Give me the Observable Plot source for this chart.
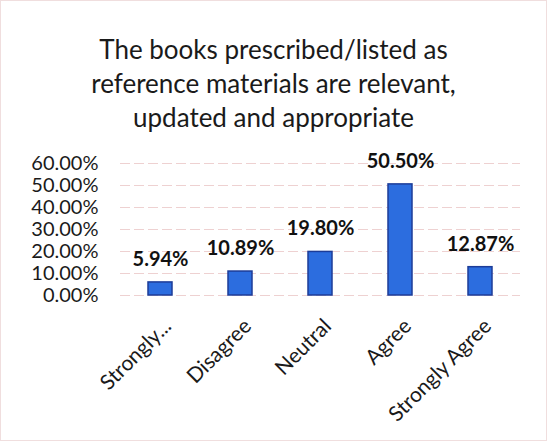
<!DOCTYPE html>
<html><head><meta charset="utf-8">
<script src="https://cdn.jsdelivr.net/npm/d3@7"></script>
<script src="https://cdn.jsdelivr.net/npm/@observablehq/plot@0.6"></script>
<style>
body{margin:0;background:#fff;width:547px;height:441px;overflow:hidden;font-family:Lato,"Open Sans",sans-serif;}
#wrap{position:relative;width:545px;height:439px;border:1px solid #f0dede;}
#title{height:139px;box-sizing:border-box;padding-top:31px;text-align:center;font-size:26px;line-height:34px;color:#1a1a1a;}
</style></head>
<body><div id="wrap"><div id="title">The books prescribed/listed as<br>reference materials are relevant,<br>updated and appropriate</div><div id="chart"></div></div>
<script>
const categories = ["Strongly Disagree", "Disagree", "Neutral", "Agree", "Strongly Agree"];
const tickLabels = ["Strongly...", "Disagree", "Neutral", "Agree", "Strongly Agree"];
const values = [0.0594, 0.1089, 0.1980, 0.5050, 0.1287];
const yTicks = [0, 0.1, 0.2, 0.3, 0.4, 0.5, 0.6];

const data = categories.map((c, i) => ({category: c, label: tickLabels[i], value: values[i]}));
const fmt = d3.format(".2%");

const chart = Plot.plot({
  width: 545,
  height: 300,
  marginTop: 23,
  marginBottom: 145,
  marginLeft: 119,
  marginRight: 26,
  style: {fontFamily: "Lato, 'Open Sans', sans-serif", fontSize: "20px", color: "#1a1a1a", overflow: "visible"},
  x: {domain: categories, paddingInner: 0.7, paddingOuter: 0.35, label: null, axis: null},
  y: {domain: [0, 0.6], label: null, axis: null},
  marks: [
    Plot.gridY(yTicks, {stroke: "#e8c2c2", strokeOpacity: 0.75, strokeDasharray: "10,4"}),
    Plot.axisY(yTicks, {tickFormat: fmt, tickSize: 0, tickPadding: 22, fontSize: 20}),
    Plot.text(data, {x: "category", y: () => 0, text: "label", rotate: -45, textAnchor: "end", lineAnchor: "bottom",
      dx: 12, dy: 32, fontSize: 21, fill: "#1a1a1a"}),
    Plot.barY(data, {x: "category", y: "value", fill: "#2c6ddf", stroke: "#1c3c98", strokeWidth: 1.5}),
    Plot.text(data, {x: "category", y: "value", text: (d) => fmt(d.value), dy: -23, fontWeight: "bold", fontSize: 20, fill: "#111"})
  ]
});
document.getElementById("chart").appendChild(chart);
</script></body></html>
